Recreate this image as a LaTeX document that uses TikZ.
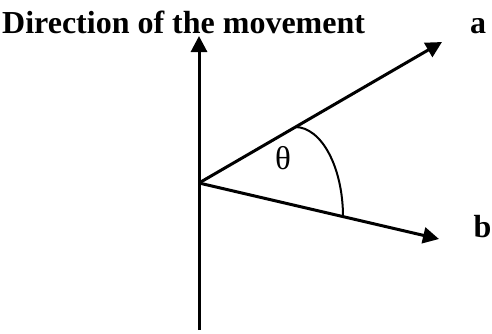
\documentclass[tikz,border=0pt]{standalone}
\usepackage{fontspec}
\setmainfont{Liberation Serif}
\usetikzlibrary{arrows.meta}
\begin{document}
\begin{tikzpicture}[x=1pt,y=1pt,
  vec/.style={line width=3pt,-{Triangle[length=16pt,width=16pt]}},
  lbl/.style={anchor=base west,inner sep=0pt,font=\fontsize{32}{36}\selectfont\bfseries}]
\useasboundingbox (0,0) rectangle (492,333);
\coordinate (O) at (199,150);
\coordinate (bot) at (199,3);
\coordinate (top) at (199,297);
\coordinate (A) at (442,291);
\coordinate (B) at (439,94);
\coordinate (s) at (295,206);
\draw[line width=3pt] (bot) -- (O);
\draw[vec] (O) -- (top);
\draw[vec] (O) -- (A);
\draw[vec] (O) -- (B);
\draw[line width=2pt] (s) arc[start angle=90,end angle=0,x radius=48,y radius=90];
\node[lbl] (title) at (2,300) {Direction of the movement};
\node[lbl] (la) at (470,300) {a};
\node[lbl] (lb) at (473.5,96) {b};
\node[inner sep=0pt,font=\fontsize{33}{36}\selectfont] (th) at (283,175) {θ};
\end{tikzpicture}
\end{document}
